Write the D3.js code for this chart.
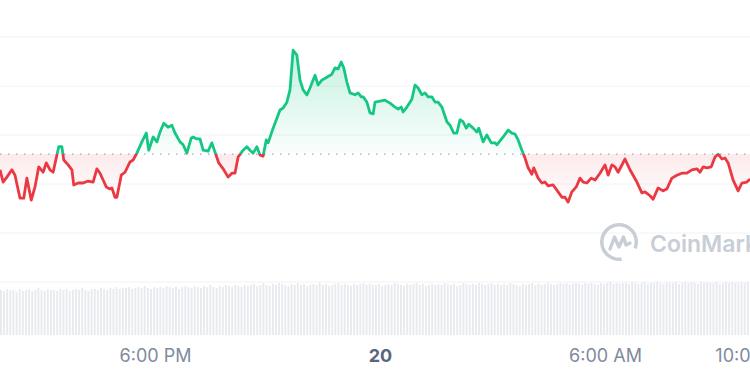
<!DOCTYPE html>
<html>
<head>
<meta charset="utf-8">
<script src="https://cdn.jsdelivr.net/npm/d3@7"></script>
<style>
body { margin: 0; background: #fff; }
svg { display: block; }
</style>
</head>
<body>
<svg id="chart" width="750" height="375"></svg>
<script>
const svg = document.getElementById("chart");

// minutes after 13:52 on the 19th, and price at that time
const minutes = [0,5,11,19,24,32,38,43,50,56,62,69,74,80,85,91,94,99,102,109,115,118,125,133,141,149,155,160,170,176,179,184,187,194,200,208,213,219,227,234,238,245,251,256,262,269,275,280,288,293,299,306,309,315,320,325,333,339,344,350,357,365,371,376,381,389,395,400,405,411,416,421,426,429,437,448,453,459,464,469,475,480,485,491,496,504,509,515,523,531,536,541,546,550,555,560,568,573,578,581,587,592,597,600,608,616,624,632,637,642,645,651,659,664,669,675,680,685,691,696,701,707,715,720,726,731,736,741,746,750,757,763,766,773,779,786,792,795,800,805,813,819,824,829,835,840,845,851,854,861,867,872,877,885,893,899,904,909,915,922,928,933,939,946,952,960,968,973,979,984,989,1000,1008,1019,1027,1032,1040,1045,1053,1061,1067,1075,1083,1091,1099,1107,1115,1120,1125,1131,1138,1144,1149,1155,1160,1165,1173,1181,1187,1195,1200];
const prices = [69.29,69.04,69.14,69.29,69.18,68.71,68.71,69.12,68.67,68.94,69.35,69.24,69.43,69.29,69.24,69.59,69.76,69.76,69.49,69.39,69.29,68.98,69.02,69.02,69.06,69.04,69.31,69.22,68.94,68.90,68.92,68.73,68.73,69.18,69.24,69.45,69.49,69.63,69.86,70.04,69.69,69.96,69.86,70.06,70.24,70.16,70.20,70.04,69.86,69.80,69.63,69.94,69.96,69.92,69.92,69.69,69.67,69.84,69.65,69.43,69.31,69.14,69.22,69.22,69.55,69.69,69.76,69.69,69.63,69.76,69.59,69.57,69.90,69.84,70.14,70.51,70.55,70.67,70.92,71.73,71.63,71.12,70.92,70.82,70.96,71.22,71.02,71.12,71.18,71.24,71.37,71.35,71.49,71.37,71.08,70.86,70.82,70.86,70.78,70.78,70.67,70.45,70.43,70.67,70.69,70.71,70.65,70.57,70.53,70.57,70.47,70.57,70.73,71.02,70.96,70.82,70.86,70.78,70.78,70.67,70.67,70.57,70.27,70.20,70.04,70.04,70.31,70.27,70.14,70.22,70.14,70.06,70.14,69.86,70.00,69.84,69.84,69.80,69.88,69.96,70.10,70.04,70.02,69.90,69.69,69.53,69.33,69.20,69.33,69.12,69.02,69.04,68.96,68.98,68.84,68.73,68.73,68.63,68.84,68.94,69.12,69.04,69.02,69.12,69.08,69.22,69.39,69.18,69.39,69.35,69.24,69.51,69.29,69.04,68.82,68.84,68.76,68.69,68.92,68.86,68.90,69.12,69.18,69.22,69.22,69.29,69.31,69.24,69.35,69.33,69.35,69.55,69.61,69.51,69.53,69.43,69.08,68.86,69.02,69.04,69.10];
const openPrice = 69.61;
const gridPrices = [67, 68, 69, 70, 71, 72];

// volume, one bar per 5 minutes
const volumes = [
  45,44,46,45,45,43,46,44,45,46,44,45,47,45,44,46,45,45,44,46,
  45,46,44,45,46,45,47,45,44,46,46,45,47,46,45,47,46,48,46,47,
  47,48,46,47,48,47,49,47,46,48,47,48,47,49,48,47,48,46,48,49,
  48,47,49,48,47,49,48,50,48,47,49,48,50,49,48,50,49,48,50,49,
  50,51,49,50,52,50,49,51,50,52,51,50,49,51,50,52,50,51,49,50,
  51,50,52,50,51,49,50,51,52,50,51,50,49,51,50,51,52,50,51,50,
  50,51,49,50,51,50,52,51,50,49,51,50,51,52,50,51,49,50,51,50,
  51,50,52,51,50,51,49,50,52,51,50,51,50,52,51,50,51,52,50,51,
  50,51,50,52,51,50,49,51,50,51,52,50,51,50,51,52,51,50,51,52,
  51,52,50,51,52,51,50,52,51,52,51,50,52,51,52,53,51,52,51,52,
  52,51,53,52,51,52,53,51,52,52,53,52,51,53,52,52,53,51,52,53,
  52,53,52,51,53,52,53,52,52,53,51,52,53,52,53,52,52,53,52,53
];

const tickTimes = [new Date(2022, 10, 19, 18, 0), new Date(2022, 10, 20, 0, 0), new Date(2022, 10, 20, 6, 0), new Date(2022, 10, 20, 10, 0)];
const tickLabels = ["6:00 PM", "20", "6:00 AM", "10:00 AM"];

const GREEN = "#16c784";
const RED = "#ea3943";
const start = new Date(2022, 10, 19, 13, 52);
const t = m => new Date(start.getTime() + m * 60000);

const data = minutes.map((m, i) => ({ time: t(m), p: prices[i] }));

var x = d3.scaleTime().domain([t(0), t(1200)]).range([0, 750]);
var y = d3.scaleLinear().domain([68, 72]).range([233, 37]);
var vy = d3.scaleLinear().domain([0, 60]).range([335, 275]);
var base = y(openPrice);

var root = d3.select(svg);
var defs = root.append("defs");

defs.append("clipPath").attr("id", "above")
  .append("rect").attr("x", 0).attr("y", 0).attr("width", 750).attr("height", base);
defs.append("clipPath").attr("id", "below")
  .append("rect").attr("x", 0).attr("y", base).attr("width", 750).attr("height", 375 - base);

var gG = defs.append("linearGradient").attr("id", "gGreen")
  .attr("gradientUnits", "userSpaceOnUse").attr("x1", 0).attr("x2", 0).attr("y1", 45).attr("y2", base);
gG.append("stop").attr("offset", 0).attr("stop-color", GREEN).attr("stop-opacity", 0.26);
gG.append("stop").attr("offset", 1).attr("stop-color", GREEN).attr("stop-opacity", 0.02);
var gR = defs.append("linearGradient").attr("id", "gRed")
  .attr("gradientUnits", "userSpaceOnUse").attr("x1", 0).attr("x2", 0).attr("y1", base).attr("y2", 205);
gR.append("stop").attr("offset", 0).attr("stop-color", RED).attr("stop-opacity", 0.10);
gR.append("stop").attr("offset", 1).attr("stop-color", RED).attr("stop-opacity", 0.01);

// grid
root.append("g").selectAll("line").data(gridPrices).join("line")
  .attr("x1", 0).attr("x2", 750)
  .attr("y1", d => y(d)).attr("y2", d => y(d))
  .attr("stroke", "#eff2f5").attr("stroke-width", 1);

// volume bars
root.append("g").selectAll("rect").data(volumes).join("rect")
  .attr("x", (d, i) => x(t(i * 5)))
  .attr("y", d => vy(d))
  .attr("width", 1.9)
  .attr("height", d => vy(0) - vy(d))
  .attr("fill", "#e7eaee");

// watermark
var wm = root.append("g").attr("transform", "translate(619,242)");
wm.append("path")
  .attr("d", d3.arc().innerRadius(15.5).outerRadius(19).startAngle(Math.PI * 0.95).endAngle(Math.PI * 2.62)())
  .attr("fill", "#c9ced6");
wm.append("path")
  .attr("d", "M-9,7 L-4.5,-5 L0,5 L4.5,-5 L7,3 L11,1")
  .attr("fill", "none").attr("stroke", "#c9ced6").attr("stroke-width", 3.4)
  .attr("stroke-linecap", "round").attr("stroke-linejoin", "round");
root.append("text")
  .attr("x", 650).attr("y", 252)
  .style("font-family", "Inter, sans-serif").style("font-size", "23px").style("font-weight", 600)
  .style("fill", "#c9ced6")
  .text("CoinMarketCap");

// areas
var area = d3.area().x(d => x(d.time)).y0(base).y1(d => y(d.p));
root.append("path").datum(data).attr("d", area).attr("fill", "url(#gGreen)").attr("clip-path", "url(#above)");
root.append("path").datum(data).attr("d", area).attr("fill", "url(#gRed)").attr("clip-path", "url(#below)");

// open price line
root.append("line")
  .attr("x1", 0).attr("x2", 750).attr("y1", base).attr("y2", base)
  .attr("stroke", "#a1a7bb").attr("stroke-width", 1.4)
  .attr("stroke-dasharray", "1.5,6.5");

// price line
var line = d3.line().x(d => x(d.time)).y(d => y(d.p));
root.append("path").datum(data).attr("d", line)
  .attr("fill", "none").attr("stroke", GREEN).attr("stroke-width", 2.8)
  .attr("stroke-linejoin", "round").attr("clip-path", "url(#above)");
root.append("path").datum(data).attr("d", line)
  .attr("fill", "none").attr("stroke", RED).attr("stroke-width", 2.8)
  .attr("stroke-linejoin", "round").attr("clip-path", "url(#below)");

// x axis
var ax = root.append("g").attr("transform", "translate(0,362)")
  .call(d3.axisBottom(x).tickValues(tickTimes).tickFormat((d, i) => tickLabels[i]).tickSize(0).tickPadding(0));
ax.select(".domain").remove();
ax.selectAll("text")
  .attr("dy", 0)
  .style("font-family", "Inter, sans-serif")
  .style("font-size", "18px")
  .style("font-weight", (d, i) => i == 1 ? 700 : 400)
  .style("fill", (d, i) => i == 1 ? "#58667e" : "#808a9d");
</script>
</body>
</html>
